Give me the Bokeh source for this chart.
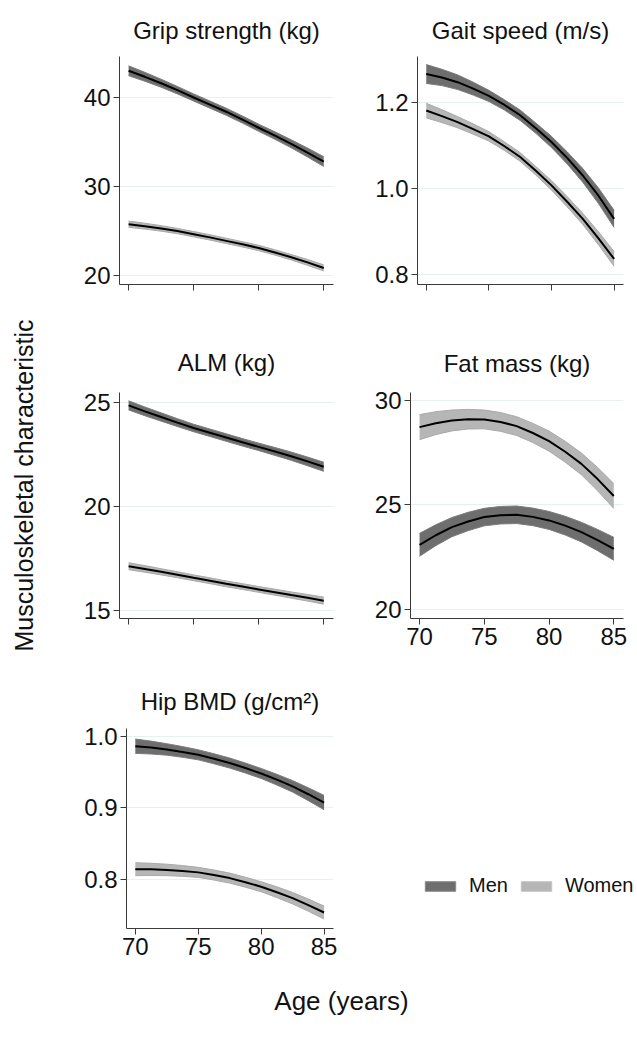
import numpy as np
from bokeh.plotting import figure
from bokeh.layouts import column, row
from bokeh.models import (Range1d, FixedTicker, Legend, LegendItem, NumeralTickFormatter,
                          CustomLabelingPolicy)
from bokeh.embed import file_html
from bokeh.resources import INLINE
from bokeh.core.properties import value

# ---------------- data ----------------
ages = [70, 71.25, 72.5, 73.75, 75, 76.25, 77.5, 78.75, 80, 81.25, 82.5, 83.75, 85]

grip_men = [43.0, 42.32, 41.6, 40.82, 40.0, 39.2, 38.4, 37.52, 36.6, 35.72, 34.8, 33.82, 32.8]
grip_men_hw = [0.55, 0.5, 0.45, 0.42, 0.4, 0.4, 0.4, 0.4, 0.4, 0.42, 0.45, 0.5, 0.55]
grip_women = [25.77, 25.55, 25.3, 25.0, 24.65, 24.29, 23.9, 23.51, 23.1, 22.6, 22.06, 21.48, 20.86]
grip_women_hw = [0.35, 0.33, 0.31, 0.3, 0.3, 0.3, 0.3, 0.3, 0.3, 0.3, 0.31, 0.33, 0.35]

gait_men = [1.267, 1.259, 1.248, 1.233, 1.216, 1.195, 1.171, 1.141, 1.109, 1.072, 1.031, 0.984, 0.930]
gait_men_hw = [0.022, 0.019, 0.017, 0.015, 0.013, 0.012, 0.012, 0.012, 0.013, 0.014, 0.016, 0.018, 0.020]
gait_women = [1.182, 1.169, 1.155, 1.139, 1.122, 1.099, 1.074, 1.042, 1.008, 0.970, 0.930, 0.885, 0.837]
gait_women_hw = [0.017, 0.015, 0.013, 0.012, 0.011, 0.010, 0.010, 0.010, 0.011, 0.012, 0.013, 0.015, 0.017]

alm_men = [24.87, 24.58, 24.31, 24.04, 23.78, 23.55, 23.32, 23.09, 22.87, 22.65, 22.42, 22.17, 21.91]
alm_men_hw = [0.22, 0.21, 0.2, 0.19, 0.18, 0.18, 0.18, 0.18, 0.18, 0.19, 0.2, 0.21, 0.22]
alm_women = [17.12, 16.99, 16.85, 16.71, 16.56, 16.42, 16.27, 16.14, 16.0, 15.87, 15.73, 15.6, 15.46]
alm_women_hw = [0.17, 0.16, 0.15, 0.145, 0.14, 0.14, 0.14, 0.14, 0.14, 0.145, 0.15, 0.16, 0.17]

fat_men = [23.08, 23.54, 23.93, 24.20, 24.41, 24.50, 24.52, 24.42, 24.25, 24.00, 23.69, 23.31, 22.89]
fat_men_hw = [0.55, 0.5, 0.46, 0.44, 0.42, 0.42, 0.42, 0.42, 0.43, 0.45, 0.47, 0.51, 0.55]
fat_women = [28.72, 28.91, 29.04, 29.10, 29.09, 28.97, 28.77, 28.44, 28.05, 27.54, 26.96, 26.23, 25.42]
fat_women_hw = [0.6, 0.55, 0.5, 0.47, 0.45, 0.45, 0.45, 0.46, 0.48, 0.5, 0.52, 0.56, 0.6]

hip_men = [0.986, 0.9841, 0.9815, 0.978, 0.974, 0.9685, 0.9625, 0.9555, 0.948, 0.9393, 0.930, 0.919, 0.9074]
hip_men_hw = [0.010, 0.009, 0.008, 0.0075, 0.007, 0.007, 0.007, 0.007, 0.007, 0.0075, 0.008, 0.009, 0.010]
hip_women = [0.8144, 0.8142, 0.8134, 0.812, 0.810, 0.8063, 0.802, 0.7963, 0.790, 0.7823, 0.774, 0.7643, 0.754]
hip_women_hw = [0.009, 0.0085, 0.008, 0.0075, 0.007, 0.007, 0.007, 0.007, 0.007, 0.0075, 0.008, 0.0085, 0.009]

x_ticks = [70, 75, 80, 85]
groups = ["Men", "Women"]

# ---------------- style ----------------
FONT = "Liberation Sans"
MEN_FILL, MEN_EDGE = "#6e6e6e", "#7c7c7c"
WOMEN_FILL, WOMEN_EDGE = "#b6b6b6", "#a9a9a9"
AXIS_COLOR = "#3a3a3a"
GRID_COLOR = "#e8f0f1"
TICK_FS = "24px"
TITLE_FS = "24px"

NO_LABELS = CustomLabelingPolicy(code="""
try {
  const out = indices.clone ? indices.clone() : indices;
  for (const i of [...out.ones()]) out.unset(i);
  return out;
} catch (e) { return indices; }
""")


def panel(title, width, height, borders, y_range, yticks, yfmt,
          men, men_hw, women, women_hw, show_x, standoff):
    left, right, top, bottom = borders
    p = figure(width=width, height=height,
               x_range=Range1d(69.3, 85.75), y_range=Range1d(*y_range),
               output_backend="svg", toolbar_location=None,
               min_border_left=left, min_border_right=right,
               min_border_top=top, min_border_bottom=bottom)
    p.title.text = title
    p.title.align = "center"
    p.title.text_font = FONT
    p.title.text_font_size = TITLE_FS
    p.title.text_font_style = "normal"
    p.title.text_color = "#111111"
    p.title.standoff = standoff
    p.outline_line_color = None
    p.xgrid.visible = False
    p.ygrid.grid_line_color = GRID_COLOR
    p.ygrid.grid_line_width = 1

    for ax in (p.xaxis[0], p.yaxis[0]):
        ax.axis_line_color = AXIS_COLOR
        ax.major_tick_line_color = AXIS_COLOR
        ax.minor_tick_line_color = None
        ax.major_tick_in = 0
        ax.major_tick_out = 6
        ax.major_label_text_font = FONT
        ax.major_label_text_font_size = TICK_FS
        ax.major_label_text_color = "#111111"
        ax.major_label_standoff = 3
    p.xaxis.ticker = FixedTicker(ticks=x_ticks)
    p.yaxis.ticker = FixedTicker(ticks=yticks)
    if yfmt:
        p.yaxis.formatter = NumeralTickFormatter(format=yfmt)
    if not show_x:
        p.xaxis.major_label_policy = NO_LABELS

    for vals, hw, fill, edge in ((men, men_hw, MEN_FILL, MEN_EDGE),
                                 (women, women_hw, WOMEN_FILL, WOMEN_EDGE)):
        v = np.array(vals)
        h = np.array(hw)
        lo, hi = v - h, v + h
        p.varea(x=ages, y1=lo, y2=hi, fill_color=fill)
        p.line(ages, lo, line_color=edge, line_width=1)
        p.line(ages, hi, line_color=edge, line_width=1)
        p.line(ages, vals, line_color="black", line_width=2)
    return p


# widths/heights and borders (left, right, top, bottom)
grip = panel("Grip strength (kg)", 280, 330, (59, 7, 56, 46), (19.0, 44.6), [20, 30, 40], None,
             grip_men, grip_men_hw, grip_women, grip_women_hw, False, 25)
gait = panel("Gait speed (m/s)", 297, 330, (77, 14, 56, 46), (0.7775, 1.3077), [0.8, 1.0, 1.2], "0.0",
             gait_men, gait_men_hw, gait_women, gait_women_hw, False, 25)
alm = panel("ALM (kg)", 280, 330, (59, 7, 62, 41), (14.6, 25.49), [15, 20, 25], None,
            alm_men, alm_men_hw, alm_women, alm_women_hw, False, 33)
fat = panel("Fat mass (kg)", 297, 330, (70, 14, 62, 42), (19.55, 30.38), [20, 25, 30], None,
            fat_men, fat_men_hw, fat_women, fat_women_hw, True, 32)
hip = panel("Hip BMD (g/cm\u00b2)", 280, 321, (66, 7, 68, 53), (0.7317, 1.0107), [0.8, 0.9, 1.0], "0.0",
            hip_men, hip_men_hw, hip_women, hip_women_hw, True, 28)

# legend panel
leg = figure(width=297, height=321, output_backend="svg", toolbar_location=None,
             x_axis_location=None, y_axis_location=None,
             x_range=Range1d(0, 1), y_range=Range1d(0, 1),
             min_border=0, min_border_left=0, min_border_right=0,
             min_border_top=0, min_border_bottom=0)
leg.outline_line_color = None
leg.grid.visible = False
r_men = leg.quad(left=[np.nan], right=[np.nan], top=[np.nan], bottom=[np.nan],
                 fill_color=MEN_FILL, line_color="#8a8a8a")
r_women = leg.quad(left=[np.nan], right=[np.nan], top=[np.nan], bottom=[np.nan],
                   fill_color=WOMEN_FILL, line_color="#c4c4c4")
legend = Legend(items=[LegendItem(label=groups[0], renderers=[r_men]),
                       LegendItem(label=groups[1], renderers=[r_women])],
                orientation="horizontal", location=(81, 31),
                glyph_width=38, glyph_height=12, label_standoff=10, spacing=9,
                padding=0, margin=0, border_line_color=None, background_fill_alpha=0,
                label_text_font=FONT, label_text_font_size="20px", label_text_color="#111111")
leg.add_layout(legend)

# y label
ylab = figure(width=60, height=981, output_backend="svg", toolbar_location=None,
              x_axis_location=None, y_axis_location=None,
              x_range=Range1d(0, 60), y_range=Range1d(981, 0),
              min_border=0, min_border_left=0, min_border_right=0,
              min_border_top=0, min_border_bottom=0)
ylab.outline_line_color = None
ylab.grid.visible = False
ylab.text(x=[23], y=[485], text=["Musculoskeletal characteristic"], angle=np.pi / 2,
          text_align="center", text_baseline="middle",
          text_font=value(FONT), text_font_size="25px", text_color="#111111")

# x label
xlab = figure(width=637, height=60, output_backend="svg", toolbar_location=None,
              x_axis_location=None, y_axis_location=None,
              x_range=Range1d(0, 637), y_range=Range1d(60, 0),
              min_border=0, min_border_left=0, min_border_right=0,
              min_border_top=0, min_border_bottom=0)
xlab.outline_line_color = None
xlab.grid.visible = False
xlab.text(x=[341], y=[19], text=["Age (years)"], text_align="center", text_baseline="middle",
          text_font=value(FONT), text_font_size="26px", text_color="#111111")

layout = column(row(ylab, column(row(grip, gait), row(alm, fat), row(hip, leg))), xlab)

with open("out.html", "w") as f:
    f.write(file_html(layout, INLINE))
